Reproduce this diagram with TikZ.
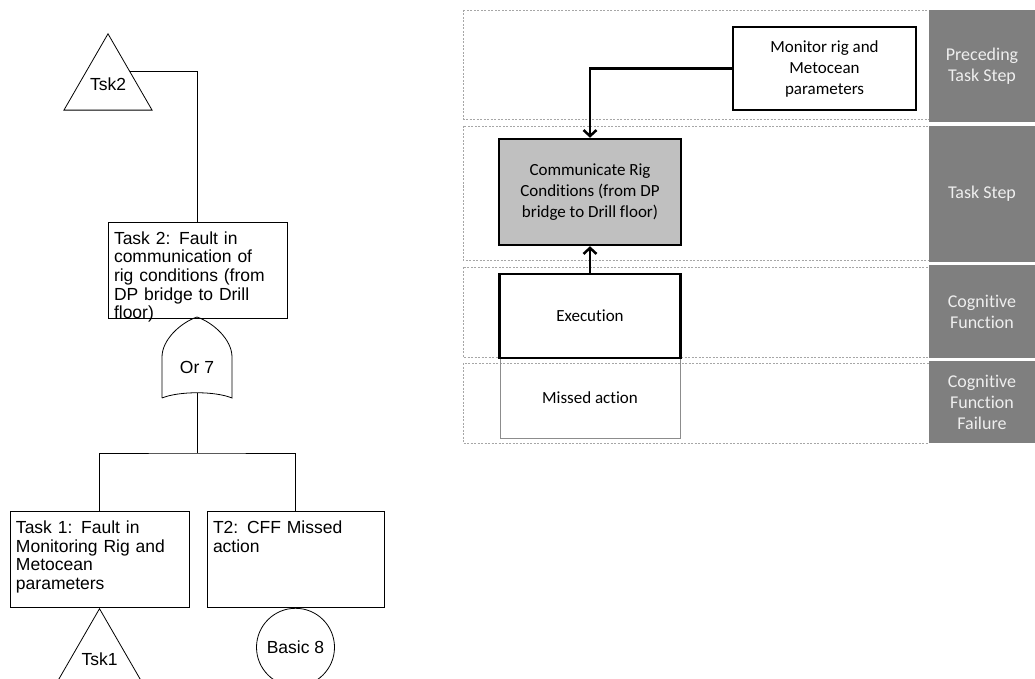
\documentclass[tikz,border=0pt]{standalone}
\usepackage{fontspec}
\setmainfont{Liberation Sans}
\newfontfamily\calibrifont{Carlito}[Ligatures=NoCommon]
\usepackage{xcolor}
\usepackage{tikz}
\usetikzlibrary{shapes.geometric,arrows.meta,positioning,calc}
\definecolor{lanegray}{RGB}{166,166,166}
\definecolor{lblgray}{RGB}{127,127,127}
\definecolor{lbltext}{RGB}{238,238,238}
\definecolor{stepgray}{RGB}{192,192,192}
\definecolor{missgray}{RGB}{140,140,140}
\newcommand{\ftfont}{\fontsize{17.5}{18.7}\selectfont}
\newcommand{\stepfont}{\calibrifont\fontsize{17}{21}\selectfont}
\newcommand{\lblfont}{\calibrifont\fontsize{18}{21}\selectfont}
\tikzstyle{ftbox} = [rectangle, draw=black, line width=0.8pt, text width=167pt,
    align=left, inner xsep=6pt, inner ysep=4pt, text height=18pt,
    text depth=70pt, font=\ftfont]
\tikzstyle{tsk} = [regular polygon, regular polygon sides=3, draw=black,
    line width=0.8pt, minimum size=93.5pt, inner sep=0pt, font=\ftfont]
\tikzstyle{basic} = [circle, draw=black, line width=0.8pt, minimum size=78pt,
    inner sep=0pt, font=\ftfont]
\tikzstyle{ftline} = [line width=0.8pt]
\tikzstyle{lane} = [draw=lanegray, line width=0.6pt, dash pattern=on 2pt off 1.5pt]
\tikzstyle{lanelbl} = [rectangle, fill=lblgray, text=lbltext, minimum width=106pt,
    align=center, font=\lblfont, inner sep=0pt]
\tikzstyle{stepbox} = [rectangle, draw=black, line width=2.5pt, align=center,
    font=\stepfont, inner sep=0pt]
\tikzstyle{flow} = [line width=2.5pt, -{Straight Barb[length=6pt,width=13pt]}]

\begin{document}
\begin{tikzpicture}[x=1pt,y=-1pt]
\useasboundingbox (0,0) rectangle (1035,679);
% Fault tree
\node[tsk, anchor=corner 1] (tsk2) at (108,33) {Tsk2};
\node[ftbox] (task2) at (197.5,270) {Task 2: Fault in\\communication of\\rig conditions (from\\DP bridge to Drill\\floor)};
\draw[ftline] (tsk2.side 3) -| (task2.north);
% Or gate
\draw[ftline] (162,398) -- (162,357) .. controls (162,340) and (180,323) .. (197,317)
    .. controls (214,323) and (232,340) .. (232,357) -- (232,398)
    .. controls (215,391) and (179,391) .. (162,398);
\node[font=\ftfont] (or7) at (197,367) {Or 7};
\coordinate (or7out) at (197,393);
\coordinate (split) at (197,453);
% Children
\node[ftbox] (task1) at (99.5,559.5) {Task 1: Fault in\\Monitoring Rig and\\Metocean\\parameters};
\node[ftbox, text width=165pt] (cff) at (295.5,559.5) {T2: CFF Missed\\action};
\node[tsk, anchor=corner 1] (tsk1) at (task1.south) {Tsk1};
\node[basic, below=0pt of cff] (basic8) {Basic 8};
\draw[ftline] (or7out) -- (split);
\draw[ftline] (task1.north) |- (split) -| (cff.north);
% Lanes
\draw[lane] (463,10) rectangle (929,119);
\draw[lane] (463,126) rectangle (929,260);
\draw[lane] (463,267) rectangle (929,357);
\draw[lane] (463,363) rectangle (929,443);
\node[lanelbl, minimum height=112pt] (lbl1) at (982,66) {Preceding\\Task Step};
\node[lanelbl, minimum height=136pt] (lbl2) at (982,194) {Task Step};
\node[lanelbl, minimum height=93pt] (lbl3) at (982,311.5) {Cognitive\\Function};
\node[lanelbl, minimum height=82pt] (lbl4) at (982,402) {Cognitive\\Function\\Failure};
% Steps
\node[stepbox, minimum width=183pt, minimum height=83pt] (monitor) at (824.5,68.5) {Monitor rig and\\Metocean\\parameters};
\node[stepbox, fill=stepgray, minimum width=182pt, minimum height=106pt] (commun) at (590,192) {Communicate Rig\\Conditions (from DP\\bridge to Drill floor)};
\node[stepbox, draw=missgray, line width=1pt, minimum width=180pt, minimum height=80pt] (missed) at (590,398) {Missed action};
\node[stepbox, minimum width=181pt, minimum height=84pt] (exec) at (590,316) {Execution};
% Arrows
\draw[flow] (monitor.west) -| (commun.north);
\draw[flow] (exec.north) -- (commun.south);
\end{tikzpicture}
\end{document}
